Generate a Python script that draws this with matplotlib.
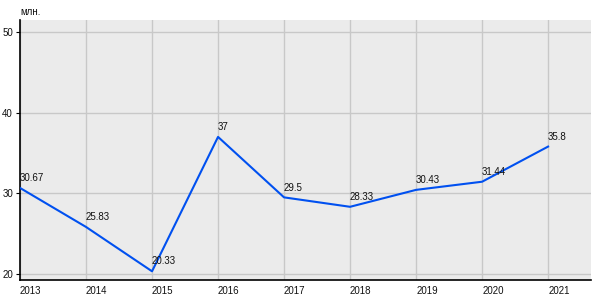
import matplotlib.pyplot as plt

plt.rcParams['font.family'] = ['Liberation Sans', 'DejaVu Sans']

years = [2013, 2014, 2015, 2016, 2017, 2018, 2019, 2020, 2021]
values = [30.67, 25.83, 20.33, 37, 29.5, 28.33, 30.43, 31.44, 35.8]
labels = ['30.67', '25.83', '20.33', '37', '29.5', '28.33', '30.43', '31.44', '35.8']

fig = plt.figure(figsize=(6, 3), dpi=100)
ax = fig.add_axes([20/600, 20/300, 571/600, 260/300])
ax.set_facecolor('#ebebeb')
ax.plot(years, values, color='#0050f0', linewidth=1.5, zorder=3)
for x, y, t in zip(years, values, labels):
    ax.annotate(t, (x, y), xytext=(0, 3.5), textcoords='offset points',
                fontsize=7, ha='left', va='bottom', color='#111111', zorder=4)

ax.set_xlim(2013, 2021.65)
ax.set_ylim(19.25, 51.5)
ax.set_xticks(years)
ax.set_xticklabels([str(y) for y in years], ha='left', fontsize=7)
ax.set_yticks([20, 30, 40, 50])
ax.tick_params(axis='y', length=3, pad=2, labelsize=7, labelcolor='#111111')
ax.tick_params(axis='x', length=0, pad=4, labelcolor='#111111')
ax.grid(True, color='#c8c8c8', linewidth=1)
ax.set_axisbelow(True)
for s in ['top', 'right']:
    ax.spines[s].set_visible(False)
ax.spines['left'].set_linewidth(1.2)
ax.spines['bottom'].set_linewidth(1.2)
fig.text(20/600, 1 - 15/300, 'млн.', fontsize=7, ha='left', va='baseline', color='#111111')

fig.savefig('out.png')
